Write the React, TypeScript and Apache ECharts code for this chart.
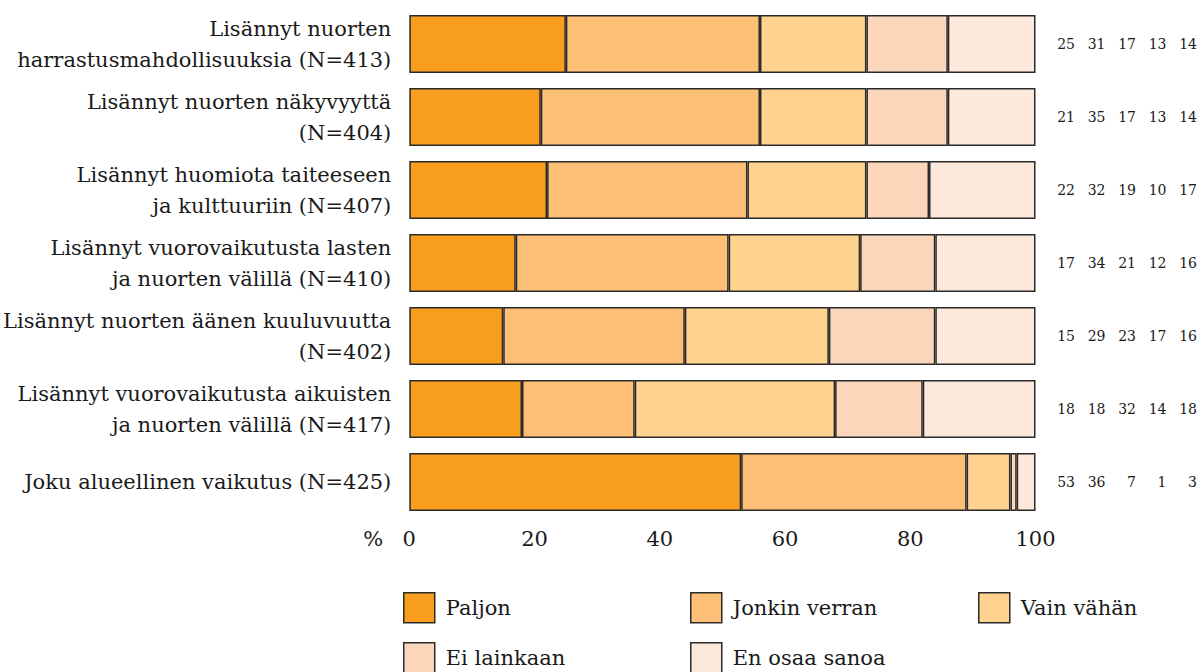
import React, { useEffect, useRef } from "react";
import * as echarts from "echarts";

const categories = [
  "Lisännyt nuorten\nharrastusmahdollisuuksia (N=413)",
  "Lisännyt nuorten näkyvyyttä\n(N=404)",
  "Lisännyt huomiota taiteeseen\nja kulttuuriin (N=407)",
  "Lisännyt vuorovaikutusta lasten\nja nuorten välillä (N=410)",
  "Lisännyt nuorten äänen kuuluvuutta\n(N=402)",
  "Lisännyt vuorovaikutusta aikuisten\nja nuorten välillä (N=417)",
  "Joku alueellinen vaikutus (N=425)",
];

const seriesNames = ["Paljon", "Jonkin verran", "Vain vähän", "Ei lainkaan", "En osaa sanoa"];
const paljon = [25, 21, 22, 17, 15, 18, 53];
const jonkinVerran = [31, 35, 32, 34, 29, 18, 36];
const vainVahan = [17, 17, 19, 21, 23, 32, 7];
const eiLainkaan = [13, 13, 10, 12, 17, 14, 1];
const enOsaaSanoa = [14, 14, 17, 16, 16, 18, 3];
const seriesData = [paljon, jonkinVerran, vainVahan, eiLainkaan, enOsaaSanoa];
const colors = ["#F99D1F", "#FDBF76", "#FFD28F", "#FBD6BA", "#FDE9DB"];
const xTicks = { min: 0, max: 100, interval: 20 };

const FONT = "DejaVu Serif";
const TEXT = "#1a1a1a";

export default function App() {
  const ref = useRef<HTMLDivElement>(null);
  useEffect(() => {
    if (!ref.current) return;
    const chart = echarts.init(ref.current, undefined, { renderer: "svg" });
    const legendPos = [
      [403, 592],
      [690, 592],
      [978, 592],
      [403, 642],
      [690, 642],
    ];
    const rich: any = {};
    ["a", "b", "c", "d", "e"].forEach((k) => {
      rich[k] = { width: 30.5, align: "right", fontSize: 14, fontFamily: FONT, color: TEXT };
    });
    chart.setOption({
      animation: false,
      textStyle: { fontFamily: FONT, color: TEXT },
      grid: { left: 408, right: 164, top: 7.5, bottom: 153.5, containLabel: false },
      xAxis: {
        type: "value",
        min: xTicks.min,
        max: xTicks.max,
        interval: xTicks.interval,
        axisLine: { show: false },
        axisTick: { show: false },
        splitLine: { show: false },
        axisLabel: { fontSize: 21, fontFamily: FONT, color: TEXT, margin: 10 },
        name: "%",
        nameLocation: "start",
        nameGap: 26,
        nameTextStyle: {
          fontSize: 21,
          fontFamily: FONT,
          color: TEXT,
          verticalAlign: "top",
          padding: [10, 0, 0, 0],
        },
      },
      yAxis: [
        {
          type: "category",
          data: categories,
          inverse: true,
          axisLine: { show: false },
          axisTick: { show: false },
          splitLine: { show: false },
          axisLabel: {
            fontSize: 21,
            lineHeight: 31,
            fontFamily: FONT,
            color: TEXT,
            margin: 18,
            align: "right",
          },
        },
        {
          type: "category",
          data: categories,
          inverse: true,
          position: "right",
          axisLine: { show: false },
          axisTick: { show: false },
          splitLine: { show: false },
          axisLabel: {
            margin: 9,
            align: "left",
            fontFamily: FONT,
            formatter: (_v: string, i: number) =>
              seriesData.map((arr, k) => `{${"abcde"[k]}|${arr[i]}}`).join(""),
            rich,
          },
        },
      ],
      legend: seriesNames.map((n, i) => ({
        data: [n],
        left: legendPos[i][0],
        top: legendPos[i][1],
        padding: 0,
        itemWidth: 31,
        itemHeight: 30,
        icon: "rect",
        itemStyle: { borderColor: "#2a2a2a", borderWidth: 1.5 },
        textStyle: { fontSize: 21, fontFamily: FONT, color: TEXT, padding: [0, 0, 0, 6] },
        selectedMode: false,
      })),
      series: seriesNames.map((n, i) => ({
        name: n,
        type: "bar",
        stack: "total",
        data: seriesData[i],
        barWidth: 58,
        itemStyle: { color: colors[i], borderColor: "#2a2a2a", borderWidth: 1.5 },
        emphasis: { disabled: true },
      })),
    });
    return () => chart.dispose();
  }, []);
  return <div ref={ref} style={{ width: 1200, height: 672, position: "absolute", left: 0, top: 0 }} />;
}
